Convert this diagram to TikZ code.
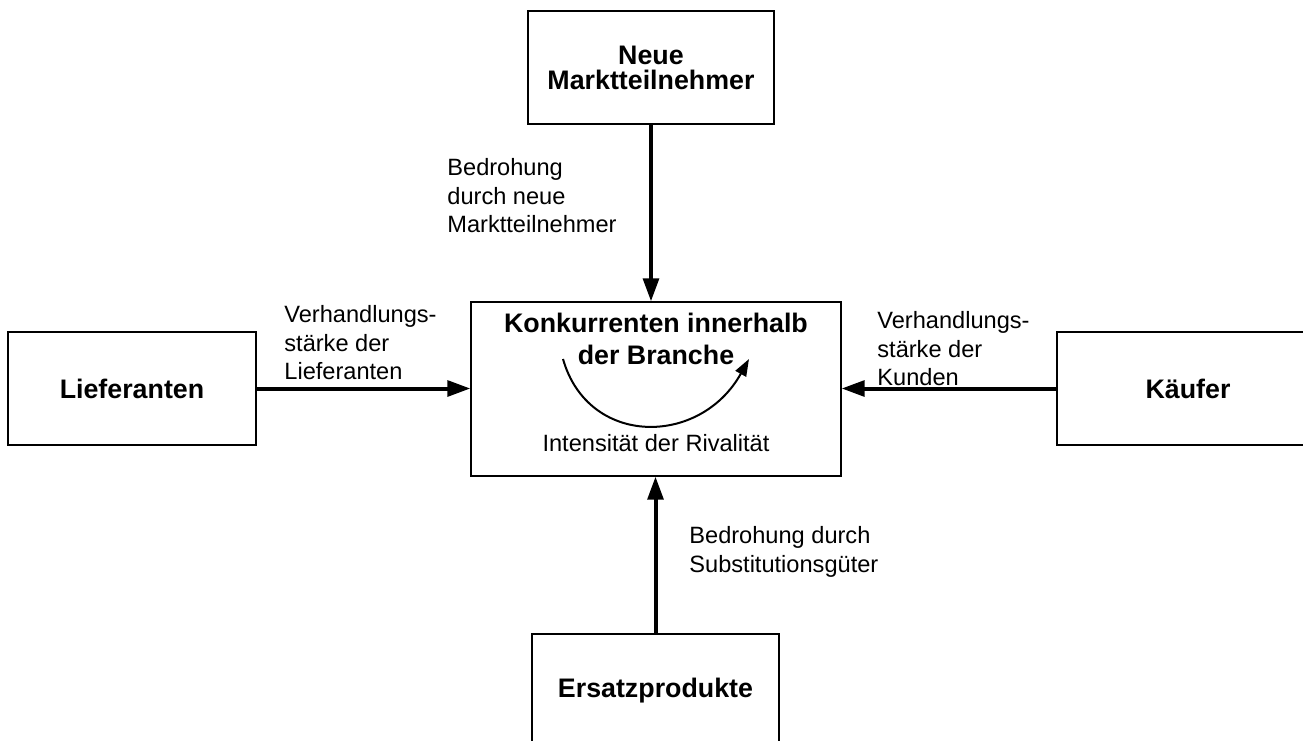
\documentclass[tikz,border=0pt]{standalone}
\usepackage{fontspec}
\setmainfont{Liberation Sans}
\usetikzlibrary{arrows.meta}
\begin{document}
\begin{tikzpicture}[x=0.5pt,y=-0.5pt,
  box/.style={draw=black, line width=0.6pt, inner sep=0pt, align=center,
    font=\bfseries\fontsize{13.4}{12.5}\selectfont},
  lbl/.style={inner sep=0pt, align=left, anchor=north west,
    font=\fontsize{11.8}{14.35}\selectfont},
  force/.style={-{Triangle[length=11.5pt,width=7.8pt]}, line width=2pt}]
\useasboundingbox (0,0) rectangle (1303,740);
\clip (0,0) rectangle (1303,740);

% boxes
\node[box, minimum width=123pt, minimum height=56.5pt] (neu) at (651,67.5) {Neue\\Marktteilnehmer};
\node[draw=black, line width=0.6pt, inner sep=0pt, minimum width=185pt, minimum height=87pt] (kon) at (656,389) {};
\node[box, minimum width=124pt, minimum height=56.5pt] (lief) at (132,388.5) {Lieferanten};
\node[box, minimum width=131pt, minimum height=56.5pt] (kauf) at (1188,388.5) {Käufer};
\node[box, minimum width=123.5pt, minimum height=56.5pt] (ers) at (655.5,690.5) {Ersatzprodukte};

% texts inside the central box
\node[inner sep=0pt, anchor=north, align=center,
  font=\bfseries\fontsize{13.4}{15.8}\selectfont] (title) at (656,313) {Konkurrenten innerhalb\\der Branche};
\node[anchor=base, inner sep=0pt, font=\fontsize{11.8}{14.35}\selectfont] (riv) at (656,451) {Intensität der Rivalität};

% rivalry curve
\coordinate (cs) at (563,359);
\coordinate (ce) at (749,359);
\draw[-{Triangle[length=8.5pt,width=6pt]}, line width=1pt] (cs) .. controls (588,447) and (700,447) .. (ce);

% force arrows
\draw[force] (neu.south) -- (neu.south |- kon.north);
\draw[force] (lief.east) -- (lief.east -| kon.west);
\draw[force] (kauf.west) -- (kauf.west -| kon.east);
\draw[force] (ers.north) -- (ers.north |- kon.south);

% labels
\node[lbl] (lt) at (447,158) {Bedrohung\\durch neue\\Marktteilnehmer};
\node[lbl] (ll) at (284,305) {Verhandlungs-\\stärke der\\Lieferanten};
\node[lbl] (lr) at (877,311) {Verhandlungs-\\stärke der\\Kunden};
\node[lbl] (lb) at (689,526) {Bedrohung durch\\Substitutionsgüter};
\end{tikzpicture}
\end{document}
